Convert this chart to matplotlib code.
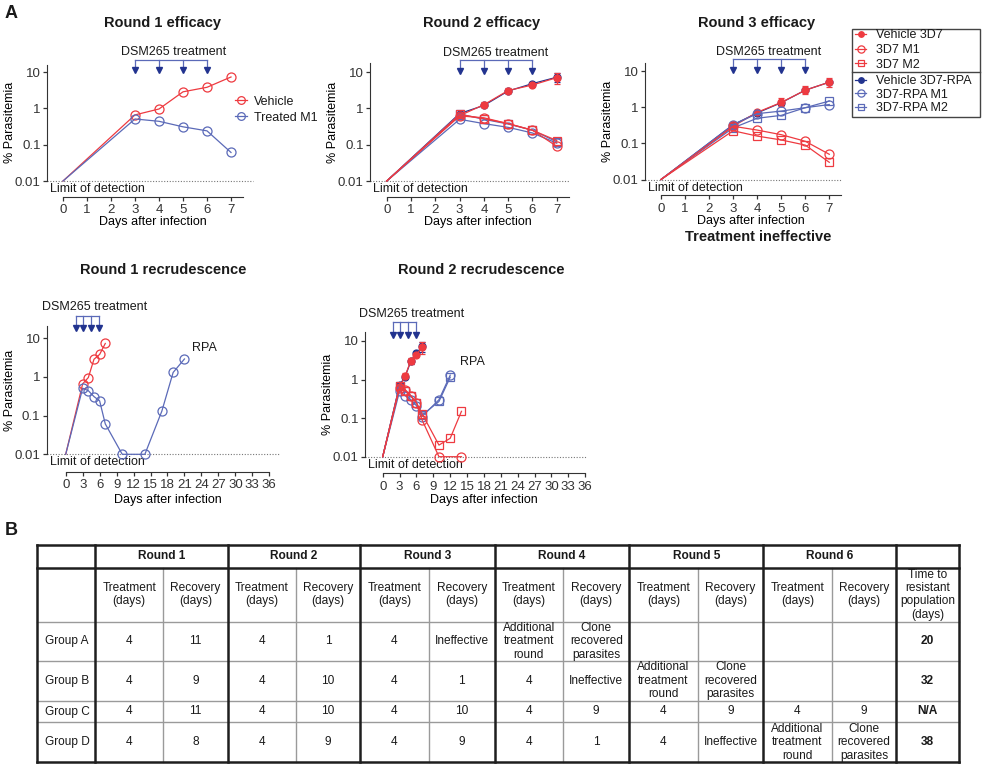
import matplotlib
matplotlib.use('Agg')
import matplotlib.pyplot as plt
from matplotlib.transforms import Affine2D, blended_transform_factory
from matplotlib.patches import Rectangle
from matplotlib.ticker import NullLocator

plt.rcParams['font.family'] = ['Liberation Sans', 'DejaVu Sans']
plt.rcParams['font.size'] = 9
plt.rcParams['axes.edgecolor'] = '#333333'
plt.rcParams['xtick.color'] = '#333333'
plt.rcParams['ytick.color'] = '#333333'
plt.rcParams['text.color'] = '#1a1a1a'

RED = '#ee3a40'
BLUE = '#5b6ab8'
NAVY = '#22338f'
W, H = 984, 778
FS = 9

# ---------------- DATA: panel A ----------------
days_eff = [0, 3, 4, 5, 6, 7]
treatment_days = [3, 4, 5, 6]
treatment_days_recrud = [1.9, 3.1, 4.5, 5.85]

# Round 1 efficacy
r1_vehicle = [0.01, 0.66, 0.96, 2.85, 3.8, 7.3]
r1_treated = [0.01, 0.51, 0.44, 0.31, 0.24, 0.061]

# Round 2 efficacy
r2_veh_3d7 = [0.01, 0.63, 1.26, 3.1, 4.4, 7.0]
r2_veh_3d7_lo = [0, 0.05, 0.15, 0.5, 0.4, 2.3]
r2_veh_3d7_hi = [0, 0.05, 0.2, 0.5, 0.4, 2.6]
r2_veh_rpa = [0.01, 0.72, 1.2, 3.0, 4.8, 7.2]
r2_veh_rpa_lo = [0, 0.05, 0.1, 0.4, 0.4, 2.0]
r2_veh_rpa_hi = [0, 0.05, 0.1, 0.4, 0.5, 2.2]
r2_3d7_m1 = [0.01, 0.62, 0.55, 0.38, 0.25, 0.09]
r2_3d7_m2 = [0.01, 0.68, 0.52, 0.38, 0.25, 0.13]
r2_rpa_m1 = [0.01, 0.5, 0.38, 0.3, 0.21, 0.11]
r2_rpa_m2 = [0.01, 0.7, 0.5, 0.37, 0.25, 0.12]

# Round 3 efficacy
r3_veh_3d7 = [0.01, 0.30, 0.73, 1.37, 3.0, 5.0]
r3_veh_3d7_lo = [0, 0.03, 0.08, 0.3, 0.7, 1.3]
r3_veh_3d7_hi = [0, 0.03, 0.1, 0.45, 0.9, 1.4]
r3_veh_rpa = [0.01, 0.33, 0.70, 1.35, 3.0, 5.0]
r3_3d7_m1 = [0.01, 0.30, 0.235, 0.175, 0.115, 0.05]
r3_3d7_m2 = [0.01, 0.225, 0.16, 0.125, 0.09, 0.03]
r3_rpa_m1 = [0.01, 0.33, 0.67, 0.79, 0.98, 1.2]
r3_rpa_m2 = [0.01, 0.27, 0.5, 0.6, 0.98, 1.5]

# Round 1 recrudescence (treated mice followed longer)
rec1_days = days_eff + [10, 14, 17, 19, 21]
rec1_treated = r1_treated + [0.01, 0.01, 0.13, 1.3, 2.9]

# Round 2 recrudescence
rec2_m1_days = days_eff + [10, 14]
rec2_3d7_m1 = r2_3d7_m1 + [0.01, 0.01]
rec2_m2_days = days_eff + [10, 12, 14]
rec2_3d7_m2 = r2_3d7_m2 + [0.02, 0.03, 0.15]
rec2_rpa_days = days_eff + [10, 12]
rec2_rpa_m1 = r2_rpa_m1 + [0.3, 1.3]
rec2_rpa_m2 = r2_rpa_m2 + [0.27, 1.15]

# ---------------- DATA: panel B (table) ----------------
rounds = ['Round 1', 'Round 2', 'Round 3', 'Round 4', 'Round 5', 'Round 6']
groups = ['Group A', 'Group B', 'Group C', 'Group D']
add_round = 'Additional\ntreatment\nround'
clone = 'Clone\nrecovered\nparasites'
group_a = ['4', '11', '4', '1', '4', 'Ineffective', add_round, clone, '', '', '', '']
group_b = ['4', '9', '4', '10', '4', '1', '4', 'Ineffective', add_round, clone, '', '']
group_c = ['4', '11', '4', '10', '4', '10', '4', '9', '4', '9', '4', '9']
group_d = ['4', '8', '4', '9', '4', '9', '4', '1', '4', 'Ineffective', add_round, clone]
time_to_resistant = ['20', '32', 'N/A', '38']

fig = plt.figure(figsize=(W / 100, H / 100), dpi=100)
# pixel coordinates measured from the top-left corner
PX = Affine2D().scale(1.0 / W, -1.0 / H).translate(0, 1) + fig.transFigure


def make_axes(left, top, right, bottom, xlim, ytop, xticks, xend, offset_px, xlabel_top):
    ax = fig.add_axes([left / W, 1 - bottom / H, (right - left) / W, (bottom - top) / H])
    ax.set_yscale('log')
    ax.set_ylim(0.01, ytop)
    ax.set_xlim(xlim)
    ax.set_yticks([0.01, 0.1, 1, 10])
    ax.set_yticklabels(['0.01', '0.1', '1', '10'])
    ax.yaxis.set_minor_locator(NullLocator())
    ax.set_xticks(xticks)
    ax.spines[['top', 'right']].set_visible(False)
    ax.spines['bottom'].set_position(('outward', offset_px * 0.72))
    ax.spines['bottom'].set_bounds(0, xend)
    ax.tick_params(length=3, width=0.9, labelsize=9.5)
    ax.tick_params(axis='x', pad=2.5)
    ax.tick_params(axis='y', pad=1.5)
    ax.patch.set_visible(False)
    ax.axhline(0.01, color='#777777', ls=(0, (1, 1.5)), lw=0.8, zorder=1, clip_on=False)
    ax.annotate('Limit of detection', xy=(0, 0.01), xycoords=('axes fraction', 'data'),
                xytext=(2.5, -1.5), textcoords='offset points', ha='left', va='top', fontsize=FS)
    ax.set_ylabel('% Parasitemia', fontsize=FS)
    ax.yaxis.set_label_coords(-31.0 / (right - left), 0.5)
    ax.set_xlabel('Days after infection', fontsize=FS)
    ax.xaxis.set_label_coords((xend / 2 - xlim[0]) / (xlim[1] - xlim[0]),
                              -(xlabel_top - bottom) / (bottom - top))
    return ax


def series(ax, x, y, color, marker, filled, ms, label=None, lo=None, hi=None):
    line, = ax.plot(x, y, color=color, lw=0.9, marker=marker, ms=ms,
                    mfc=color if filled else 'none', mec=color, mew=0.9,
                    markevery=list(range(1, len(x))), clip_on=False, zorder=3, label=label)
    if lo is not None:
        ax.errorbar(x[1:], y[1:], yerr=[lo[1:], hi[1:]], fmt='none', ecolor=color,
                    elinewidth=0.9, capsize=2.5, capthick=0.9, zorder=3, clip_on=False)
    return line


def treatment(ax, days, text_x, y_text, y_bracket, y_arrow):
    tr = blended_transform_factory(ax.transData, PX)
    ax.plot([days[0], days[-1]], [y_bracket, y_bracket], color=BLUE, lw=0.9, transform=tr, clip_on=False)
    for d in days:
        ax.plot([d, d], [y_bracket, y_arrow], color=BLUE, lw=0.9, transform=tr, clip_on=False)
    ax.plot(days, [y_arrow] * len(days), ls='none', marker='v', ms=4.5, color=NAVY,
            transform=tr, clip_on=False, zorder=4)
    ax.text(text_x, y_text, 'DSM265 treatment', transform=tr, ha='center', va='center', fontsize=FS)


# ---------------- TABLE (drawn first, underneath) ----------------
ax_t = fig.add_axes([0, 0, 1, 1])
ax_t.set_xlim(0, W)
ax_t.set_ylim(H, 0)
ax_t.axis('off')

col_x = [37.3, 95, 163.3, 227.7, 296, 360, 429, 494.5, 563.3, 629.3, 697.7, 763.3, 831.7, 896, 959.3]
row_y = [545, 567.7, 621.7, 661, 700.7, 722.3, 762.3]
THICK = dict(color='#1e1e1e', lw=1.8, solid_capstyle='projecting')
THIN = dict(color='#9a9a9a', lw=1.0)

for yy in row_y[2:-1]:
    ax_t.plot([col_x[0], col_x[-1]], [yy, yy], **THIN)
for i in range(1, 13, 2):
    ax_t.plot([col_x[i + 1], col_x[i + 1]], [row_y[1], row_y[-1]], **THIN)
for i in [0, 1, 3, 5, 7, 9, 11, 13, 14]:
    ax_t.plot([col_x[i], col_x[i]], [row_y[0], row_y[-1]], **THICK)
for yy in [row_y[0], row_y[1], row_y[-1]]:
    ax_t.plot([col_x[0], col_x[-1]], [yy, yy], **THICK)

TFS = 8.6
LS = 1.15
for k, name in enumerate(rounds):
    cx = (col_x[1 + 2 * k] + col_x[3 + 2 * k]) / 2
    ax_t.text(cx, (row_y[0] + row_y[1]) / 2, name, ha='center', va='center', fontsize=TFS, fontweight='bold')
    for j, sub in enumerate(['Treatment\n(days)', 'Recovery\n(days)']):
        sx = (col_x[1 + 2 * k + j] + col_x[2 + 2 * k + j]) / 2
        ax_t.text(sx, (row_y[1] + row_y[2]) / 2, sub, ha='center', va='center', fontsize=TFS, linespacing=LS)
ax_t.text((col_x[13] + col_x[14]) / 2, (row_y[1] + row_y[2]) / 2, 'Time to\nresistant\npopulation\n(days)',
          ha='center', va='center', fontsize=TFS, linespacing=LS)

for r, (gname, cells) in enumerate(zip(groups, [group_a, group_b, group_c, group_d])):
    cy = (row_y[2 + r] + row_y[3 + r]) / 2
    ax_t.text(col_x[0] + 8, cy, gname, ha='left', va='center', fontsize=TFS)
    for c, val in enumerate(cells):
        cx = (col_x[1 + c] + col_x[2 + c]) / 2
        ax_t.text(cx, cy, val, ha='center', va='center', fontsize=TFS, linespacing=LS)
    ax_t.text((col_x[13] + col_x[14]) / 2, cy, time_to_resistant[r], ha='center', va='center',
              fontsize=TFS, fontweight='bold')

# ---------------- PANEL A ----------------
days7 = list(range(8))
days36 = list(range(0, 37, 3))

# Round 1 efficacy
ax1 = make_axes(47, 64.6, 252.6, 181, (-0.667, 7.9), 16, days7, 7.5, 15.7, 216.5)
h_veh = series(ax1, days_eff, r1_vehicle, RED, 'o', False, 6.5, 'Vehicle')
h_trt = series(ax1, days_eff, r1_treated, BLUE, 'o', False, 6.5, 'Treated M1')
treatment(ax1, treatment_days, 4.6, 52, 60, 70.5)
fig.legend([h_veh, h_trt], ['Vehicle', 'Treated M1'], loc='upper left', bbox_to_anchor=(235 / W, 1 - 95.8 / H),
           frameon=False, handlelength=0.95, handletextpad=0.6, borderpad=0, borderaxespad=0,
           labelspacing=0.3, fontsize=FS, markerscale=0.85)

# Round 2 efficacy
ax2 = make_axes(370, 63.3, 570.1, 181, (-0.69, 7.55), 17.4, days7, 7.5, 15.7, 216.5)
series(ax2, days_eff, r2_veh_rpa, NAVY, 'o', True, 5, lo=r2_veh_rpa_lo, hi=r2_veh_rpa_hi)
series(ax2, days_eff, r2_veh_3d7, RED, 'o', True, 5, lo=r2_veh_3d7_lo, hi=r2_veh_3d7_hi)
series(ax2, days_eff, r2_rpa_m1, BLUE, 'o', False, 6.5)
series(ax2, days_eff, r2_rpa_m2, BLUE, 's', False, 5.8)
series(ax2, days_eff, r2_3d7_m1, RED, 'o', False, 6.5)
series(ax2, days_eff, r2_3d7_m2, RED, 's', False, 5.8)
treatment(ax2, treatment_days, 4.5, 52.7, 60, 71)

# Round 3 efficacy
ax3 = make_axes(645, 63.3, 841.3, 179.5, (-0.666, 7.5), 16.7, days7, 7.5, 15.5, 215)
l_vr = series(ax3, days_eff, r3_veh_rpa, NAVY, 'o', True, 5)
l_v3 = series(ax3, days_eff, r3_veh_3d7, RED, 'o', True, 5, lo=r3_veh_3d7_lo, hi=r3_veh_3d7_hi)
l_r1 = series(ax3, days_eff, r3_rpa_m1, BLUE, 'o', False, 6.5)
l_r2 = series(ax3, days_eff, r3_rpa_m2, BLUE, 's', False, 5.8)
l_31 = series(ax3, days_eff, r3_3d7_m1, RED, 'o', False, 6.5)
l_32 = series(ax3, days_eff, r3_3d7_m2, RED, 's', False, 5.8)
treatment(ax3, treatment_days, 4.49, 51.7, 59.3, 70.5)
fig.text(758, 237, 'Treatment ineffective', transform=PX, ha='center', va='center',
         fontsize=10.5, fontweight='bold')

# legend box for the six groups
fig.patches.append(Rectangle((852.3, 29.3), 127.7, 87.4, transform=PX, fill=False, ec='#444444', lw=1))
fig.lines.append(plt.Line2D([852.3, 980], [72.3, 72.3], transform=PX, color='#444444', lw=1))
fig.legend([l_v3, l_31, l_32], ['Vehicle 3D7', '3D7 M1', '3D7 M2'], loc='upper left',
           bbox_to_anchor=(855 / W, 1 - 29.5 / H), frameon=False, handlelength=0.9, handletextpad=0.75,
           borderpad=0, borderaxespad=0, labelspacing=0.2, fontsize=FS, markerscale=0.8)
fig.legend([l_vr, l_r1, l_r2], ['Vehicle 3D7-RPA', '3D7-RPA M1', '3D7-RPA M2'], loc='upper left',
           bbox_to_anchor=(855 / W, 1 - 75.3 / H), frameon=False, handlelength=0.9, handletextpad=0.75,
           borderpad=0, borderaxespad=0, labelspacing=0.12, fontsize=FS, markerscale=0.8)

# Round 1 recrudescence
ax4 = make_axes(46.7, 325.7, 280, 454.3, (-3.36, 37.9), 21, days36, 36, 17.4, 494)
series(ax4, days_eff, r1_vehicle, RED, 'o', False, 6.5)
series(ax4, rec1_days, rec1_treated, BLUE, 'o', False, 6.5)
treatment(ax4, treatment_days_recrud, 5.2, 306.7, 315.7, 328)
ax4.text(24.6, 5.5, 'RPA', ha='center', va='center', fontsize=FS)

# Round 2 recrudescence
ax5 = make_axes(365, 332.3, 586.3, 456.7, (-3.15, 36.2), 16.8, days36, 36, 16.6, 494.3)
series(ax5, days_eff, r2_veh_rpa, NAVY, 'o', True, 5, lo=r2_veh_rpa_lo, hi=r2_veh_rpa_hi)
series(ax5, days_eff, r2_veh_3d7, RED, 'o', True, 5, lo=r2_veh_3d7_lo, hi=r2_veh_3d7_hi)
series(ax5, rec2_rpa_days, rec2_rpa_m1, BLUE, 'o', False, 6.5)
series(ax5, rec2_rpa_days, rec2_rpa_m2, BLUE, 's', False, 5.8)
series(ax5, rec2_m1_days, rec2_3d7_m1, RED, 'o', False, 6.5)
series(ax5, rec2_m2_days, rec2_3d7_m2, RED, 's', False, 5.8)
treatment(ax5, treatment_days_recrud, 5.1, 314.3, 321.7, 334.7)
ax5.text(16.0, 2.8, 'RPA', ha='center', va='center', fontsize=FS)

# ---------------- TITLES AND PANEL LETTERS ----------------
titles = [('Round 1 efficacy', 163, 23), ('Round 2 efficacy', 481.7, 23), ('Round 3 efficacy', 756.7, 23),
          ('Round 1 recrudescence', 163, 270), ('Round 2 recrudescence', 481, 270)]
for txt, tx, ty in titles:
    fig.text(tx, ty, txt, transform=PX, ha='center', va='center', fontsize=10.5, fontweight='bold')
fig.text(5, 14, 'A', transform=PX, ha='left', va='center', fontsize=13, fontweight='bold')
fig.text(5, 531, 'B', transform=PX, ha='left', va='center', fontsize=13, fontweight='bold')

fig.savefig('out.png', dpi=100)
